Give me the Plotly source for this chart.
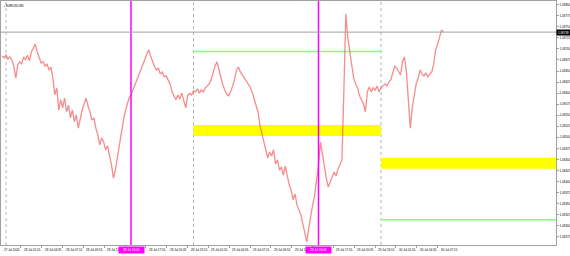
import pandas as pd
import plotly.graph_objects as go

# ---------------- data ----------------
symbol_title = "▪ EURUSD,M5"
series_start = "2020-07-27 23:30"
bar_step = "15min"
close_prices = [
    1.08684, 1.08680, 1.08686, 1.08677, 1.08682, 1.08675, 1.08661, 1.08634, 1.08664, 1.08671,
    1.08666, 1.08682, 1.08675, 1.08686, 1.08673, 1.08693, 1.08702, 1.08711, 1.08693, 1.08680,
    1.08668, 1.08671, 1.08661, 1.08666, 1.08652, 1.08659, 1.08634, 1.08596, 1.08612, 1.08562,
    1.08585, 1.08567, 1.08589, 1.08558, 1.08573, 1.08544, 1.08562, 1.08535, 1.08551, 1.08521,
    1.08544, 1.08562, 1.08576, 1.08589, 1.08571, 1.08558, 1.08539, 1.08544, 1.08521, 1.08506,
    1.08483, 1.08499, 1.08490, 1.08472, 1.08481, 1.08460, 1.08438, 1.08408, 1.08426, 1.08454,
    1.08483, 1.08512, 1.08535, 1.08558, 1.08576, 1.08589, 1.08596, 1.08607, 1.08619, 1.08630,
    1.08639, 1.08652, 1.08661, 1.08675, 1.08686, 1.08698, 1.08684, 1.08671, 1.08661, 1.08652,
    1.08657, 1.08643, 1.08648, 1.08637, 1.08639, 1.08630, 1.08621, 1.08603, 1.08594, 1.08585,
    1.08596, 1.08587, 1.08600, 1.08585, 1.08567, 1.08594, 1.08600, 1.08596, 1.08605, 1.08603,
    1.08610, 1.08600, 1.08607, 1.08603, 1.08612, 1.08616, 1.08621, 1.08630, 1.08648, 1.08661,
    1.08671, 1.08652, 1.08634, 1.08619, 1.08607, 1.08598, 1.08594, 1.08603, 1.08616, 1.08630,
    1.08652, 1.08659, 1.08648, 1.08641, 1.08634, 1.08630, 1.08621, 1.08614, 1.08603, 1.08589,
    1.08573, 1.08558, 1.08528, 1.08510, 1.08494, 1.08476, 1.08454, 1.08467, 1.08458, 1.08472,
    1.08440, 1.08449, 1.08426, 1.08433, 1.08415, 1.08435, 1.08413, 1.08393, 1.08381, 1.08359,
    1.08372, 1.08347, 1.08336, 1.08325, 1.08304, 1.08286, 1.08264, 1.08295, 1.08327, 1.08347,
    1.08368, 1.08399, 1.08438, 1.08490, 1.08460, 1.08431, 1.08408, 1.08388, 1.08399, 1.08408,
    1.08422, 1.08413, 1.08429, 1.08438, 1.08449, 1.08607, 1.08779, 1.08725, 1.08693, 1.08661,
    1.08634, 1.08621, 1.08612, 1.08594, 1.08585, 1.08576, 1.08558, 1.08603, 1.08614, 1.08603,
    1.08612, 1.08607, 1.08616, 1.08603, 1.08612, 1.08616, 1.08621, 1.08616, 1.08625, 1.08630,
    1.08648, 1.08661, 1.08657, 1.08648, 1.08641, 1.08671, 1.08682, 1.08648, 1.08573, 1.08521,
    1.08567, 1.08594, 1.08621, 1.08634, 1.08652, 1.08643, 1.08639, 1.08646, 1.08637, 1.08643,
    1.08648, 1.08666, 1.08698, 1.08711, 1.08729, 1.08743, 1.08738,
]

x_view = ["2020-07-27 23:21:36", "2020-07-30 22:24:00"]
y_view = [1.082569, 1.088083]

price_ticks = [1.08800, 1.08775, 1.08750, 1.08725, 1.08700, 1.08675, 1.08650, 1.08625,
               1.08600, 1.08575, 1.08550, 1.08525, 1.08500, 1.08475, 1.08450, 1.08425,
               1.08400, 1.08375, 1.08350, 1.08325, 1.08300, 1.08275, 1.08250]

time_tick_values = [
    "2020-07-28 01:55", "2020-07-28 04:35", "2020-07-28 07:15", "2020-07-28 09:55",
    "2020-07-28 12:35", "2020-07-28 15:15", "2020-07-28 17:55", "2020-07-28 20:35",
    "2020-07-28 23:15", "2020-07-29 01:55", "2020-07-29 04:35", "2020-07-29 07:15",
    "2020-07-29 09:55", "2020-07-29 12:35", "2020-07-29 15:15", "2020-07-29 17:55",
    "2020-07-29 20:35", "2020-07-29 23:15", "2020-07-30 01:55", "2020-07-30 04:35",
    "2020-07-30 07:15",
]
# labels hidden behind the magenta time boxes in the reference
hidden_time_labels = ["2020-07-28 15:15", "2020-07-29 15:15"]
first_time_label = "27 Jul 2020"

period_separators = ["2020-07-28 00:00", "2020-07-29 00:00", "2020-07-30 00:00"]
session_lines = ["2020-07-28 16:00", "2020-07-29 16:00"]

green_level_prices = [1.08694, 1.08314]
green_level_starts = ["2020-07-29 00:00", "2020-07-30 00:00"]
green_level_ends = ["2020-07-30 00:00", "2020-07-31 06:00"]

zone_lows = [1.08503, 1.08429]
zone_highs = [1.08528, 1.08454]
zone_starts = ["2020-07-29 00:00", "2020-07-30 00:00"]
zone_ends = ["2020-07-30 00:00", "2020-07-31 06:00"]

# ---------------- figure ----------------
times = pd.date_range(series_start, periods=len(close_prices), freq=bar_step)
bid_price = close_prices[-1]

FONT = "Liberation Sans"
GRAY = "#a0a0a0"
TXT = 3

fig = go.Figure()
fig.add_trace(go.Scatter(
    x=times, y=close_prices, mode="lines",
    line=dict(color="rgba(240,70,70,0.62)", width=1.3),
    hoverinfo="skip", showlegend=False,
))

shapes = []
for lo, hi, s, e in zip(zone_lows, zone_highs, zone_starts, zone_ends):
    shapes.append(dict(type="rect", xref="x", yref="y", x0=s, x1=e, y0=lo, y1=hi,
                       fillcolor="#ffff00", line=dict(width=0), layer="below"))
for p, s, e in zip(green_level_prices, green_level_starts, green_level_ends):
    shapes.append(dict(type="line", xref="x", yref="y", x0=s, x1=e, y0=p, y1=p,
                       line=dict(color="#80ff80", width=1.5), layer="below"))
for t in period_separators:
    shapes.append(dict(type="line", xref="x", yref="paper", x0=t, x1=t, y0=0, y1=1,
                       line=dict(color="#b4b4b4", width=1, dash="dot"), layer="below"))
for t in session_lines:
    shapes.append(dict(type="line", xref="x", yref="paper", x0=t, x1=t, y0=0, y1=1,
                       line=dict(color="#ff00ff", width=1.5), layer="above"))
shapes.append(dict(type="line", xref="paper", yref="y", x0=0, x1=1, y0=bid_price, y1=bid_price,
                   line=dict(color=GRAY, width=1), layer="above"))

annotations = []
annotations.append(dict(xref="paper", yref="paper", x=0, y=1, xanchor="left", yanchor="top",
                        xshift=1, yshift=-1, text=symbol_title, showarrow=False,
                        font=dict(family=FONT, size=TXT, color="#000000")))
annotations.append(dict(xref="paper", yref="paper", x=0, y=0, xanchor="left", yanchor="top",
                        xshift=1, yshift=-1, text=first_time_label, showarrow=False,
                        font=dict(family=FONT, size=TXT, color="#000000")))
for t in time_tick_values:
    if t in hidden_time_labels:
        continue
    ts = pd.Timestamp(t)
    annotations.append(dict(xref="x", yref="paper", x=t, y=0, xanchor="left", yanchor="top",
                            xshift=1, yshift=-1, text=ts.strftime("%d %b %H:%M"), showarrow=False,
                            font=dict(family=FONT, size=TXT, color="#000000")))
for t in session_lines:
    ts = pd.Timestamp(t)
    annotations.append(dict(xref="x", yref="paper", x=t, y=0, xanchor="center", yanchor="top",
                            yshift=-1, text=ts.strftime("%d %b %H:%M"), showarrow=False,
                            bgcolor="#ff00ff", width=25, height=6, borderpad=0,
                            font=dict(family=FONT, size=TXT, color="#ffffff")))
annotations.append(dict(xref="paper", yref="y", x=1, y=bid_price, xanchor="left", yanchor="middle",
                        text=f"{bid_price:.5f}", showarrow=False, bgcolor="#000000",
                        width=13, height=5, borderpad=0,
                        font=dict(family=FONT, size=TXT, color="#ffffff")))

fig.update_layout(
    width=570, height=256,
    margin=dict(l=1, r=14, t=1, b=11, pad=0),
    paper_bgcolor="#ffffff", plot_bgcolor="#ffffff",
    showlegend=False,
    shapes=shapes, annotations=annotations,
    xaxis=dict(type="date", range=x_view, showgrid=False, zeroline=False,
               tickmode="array", tickvals=time_tick_values, showticklabels=False,
               ticks="outside", ticklen=2, tickcolor=GRAY,
               showline=True, linecolor=GRAY, linewidth=1, mirror=True, automargin=False),
    yaxis=dict(range=y_view, side="right", showgrid=False, zeroline=False,
               tickmode="array", tickvals=price_ticks,
               ticktext=[f"{v:.5f}" for v in price_ticks],
               ticks="outside", ticklen=2, tickcolor=GRAY,
               tickfont=dict(family=FONT, size=TXT, color="#000000"),
               showline=True, linecolor=GRAY, linewidth=1, mirror=True, automargin=False),
)

fig.write_html("out.html")
